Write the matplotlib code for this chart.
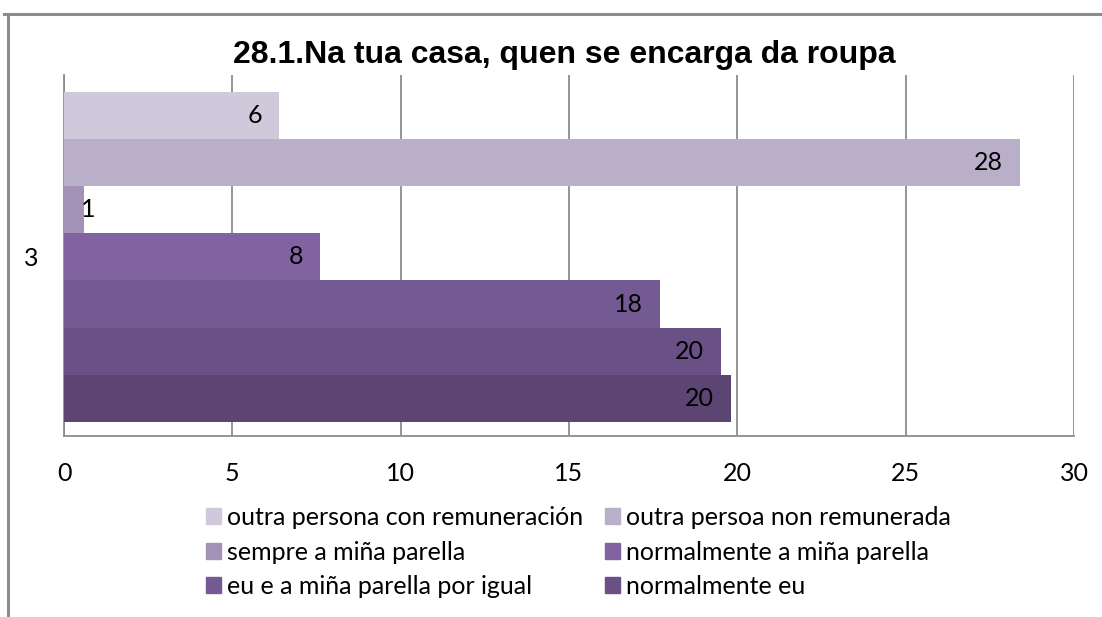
import matplotlib
matplotlib.use('Agg')
import matplotlib.pyplot as plt
from matplotlib.patches import Rectangle
import numpy as np

title = '28.1.Na tua casa, quen se encarga da roupa'
category = '3'
series = ['outra persona con remuneración', 'outra persoa non remunerada',
          'sempre a miña parella', 'normalmente a miña parella',
          'eu e a miña parella por igual', 'normalmente eu', 'sempre eu']
values = [6.4, 28.4, 0.6, 7.6, 17.7, 19.5, 19.8]
colors = ['#D0C9DB', '#B9AFC9', '#A491B8', '#8063A0', '#745A92', '#695085', '#5C4573']
xticks = [0, 5, 10, 15, 20, 25, 30]

plt.rcParams['font.family'] = ['Lato', 'DejaVu Sans']
FS = 18

fig = plt.figure(figsize=(11.02, 6.17), dpi=100)
ax = fig.add_axes([64/1102, 1-436/617, 1010/1102, 361/617])

ypos = np.arange(len(values))
ax.barh(ypos, values, height=1.0, color=colors, zorder=3)
ax.set_ylim(6.8, -0.86)
ax.set_xlim(0, 30)
ax.set_xticks(xticks)
ax.set_xticklabels([str(t) for t in xticks], fontsize=FS)
ax.set_yticks([3])
ax.set_yticklabels([category], fontsize=FS)
ax.tick_params(axis='both', length=0)
ax.tick_params(axis='x', pad=19)
ax.tick_params(axis='y', pad=18.5)
ax.grid(axis='x', color='#8c8c8c', linewidth=1.3, zorder=0)
for s in ['top', 'right']:
    ax.spines[s].set_visible(False)
for s in ['left', 'bottom']:
    ax.spines[s].set_color('#8c8c8c')
    ax.spines[s].set_linewidth(1.3)

# data labels, inside end, Excel style
for y, v in zip(ypos, values):
    end_px = v / 30 * 1010
    if end_px < 60:
        ax.annotate(str(int(round(v))), xy=(0, y), xytext=(17, 0), textcoords='offset pixels',
                    ha='left', va='center', fontsize=FS, zorder=4)
    else:
        ax.annotate(str(int(round(v))), xy=(v, y), xytext=(-17, 0), textcoords='offset pixels',
                    ha='right', va='center', fontsize=FS, zorder=4)

fig.text(564/1102, 1-55/617, title, ha='center', va='center', fontsize=23,
         fontweight='bold', family='Liberation Sans')

# legend: row-wise order, 2 columns (last series not shown)
shown = list(range(6))
order = shown[0::2] + shown[1::2]
handles = [Rectangle((0, 0), 1, 1, color=colors[i]) for i in order]
labels = [series[i] for i in order]
fig.legend(handles, labels, ncol=2, loc='upper left', bbox_to_anchor=(206/1102, 1-506/617),
           frameon=False, fontsize=FS, handlelength=0.6, handleheight=0.6,
           handletextpad=0.25, columnspacing=0.85, labelspacing=0.46, borderpad=0, borderaxespad=0)

# chart area border
fig.add_artist(plt.Line2D([4/1102, 1], [1-14/617, 1-14/617], color='#8c8c8c', linewidth=2.2))
fig.add_artist(plt.Line2D([8/1102, 8/1102], [0, 1-14/617], color='#8c8c8c', linewidth=2.2))

plt.savefig('out.png', dpi=100)
